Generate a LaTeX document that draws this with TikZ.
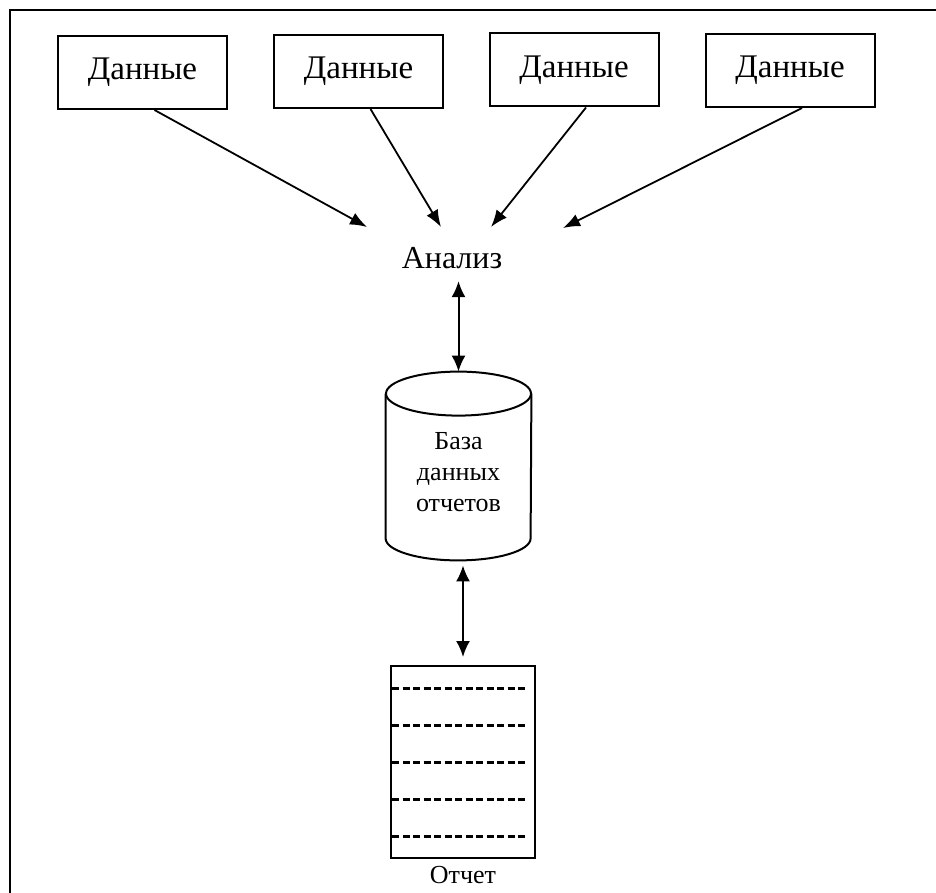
\documentclass[tikz,border=0pt]{standalone}
\usepackage{fontspec}
\setmainfont{Liberation Serif}
\usetikzlibrary{arrows.meta}
\usetikzlibrary{calc}
\tikzset{databox/.style={draw, line width=1pt, minimum width=84.5pt, minimum height=36.5pt, font=\fontsize{16.5}{19}\selectfont}}
\tikzset{feed/.style={line width=0.9pt, -{Latex[length=8.5pt,width=6.5pt]}}}
\tikzset{link/.style={line width=1pt, {Latex[length=8pt,width=7pt]}-{Latex[length=8pt,width=7pt]}}}
\tikzset{small/.style={font=\fontsize{13}{15.5}\selectfont}}
\tikzset{rowline/.style={line width=1.5pt, dash pattern=on 3.5pt off 1.75pt}}

\begin{document}
\begin{tikzpicture}[x=0.5pt, y=-0.5pt]
    \useasboundingbox (0,0) rectangle (936,893);
    %Frame
    \draw[line width=1pt] (10,893) -- (10,10) -- (936,10);
    %Data sources
    \node[databox] (d1) at (142.5,72.5) {Данные};
    \node[databox] (d2) at (358.5,71.5) {Данные};
    \node[databox] (d3) at (574,70) {Данные};
    \node[databox] (d4) at (790,70.5) {Данные};
    \node[inner sep=0pt, font=\fontsize{16}{19}\selectfont] (an) at (452,258) {Анализ};
    \coordinate (in1) at (367,227);
    \coordinate (in2) at (441,227);
    \coordinate (in3) at (491,227);
    \coordinate (in4) at (563,228);
    \foreach \i in {1,...,4}
        \draw[feed] ([xshift=6pt]d\i.south) -- (in\i);
    %Database
    \node[minimum width=72.5pt, minimum height=94pt] (db) at (458.5,466) {};
    \node[small, align=center] (dbl) at (458.5,472) {База\\данных\\отчетов};
    \draw[line width=1pt] ([yshift=-11pt]db.north west) -- ([yshift=11pt]db.south west)
        arc[start angle=180, end angle=360, x radius=36.25pt, y radius=11pt]
        -- ([yshift=-11pt]db.north east);
    \draw[line width=1pt] ([yshift=-11pt]db.north) ellipse[x radius=36.25pt, y radius=11pt];
    \draw[link] ([yshift=-6pt]an.south -| db.north) -- (db.north);
    %Report
    \node[draw, line width=1pt, minimum width=72pt, minimum height=96pt] (rep) at (463,762) {};
    \foreach \k in {-2,...,2}
        \draw[rowline] ([xshift=1pt, yshift=\k*18.5pt]rep.west) -- ([xshift=-4.5pt, yshift=\k*18.5pt]rep.east);
    \node[small, below=0pt] (repl) at (rep.south) {Отчет};
    \draw[link] ([yshift=-2.5pt]db.south -| rep.north) -- ([yshift=4pt]rep.north);
\end{tikzpicture}
\end{document}
